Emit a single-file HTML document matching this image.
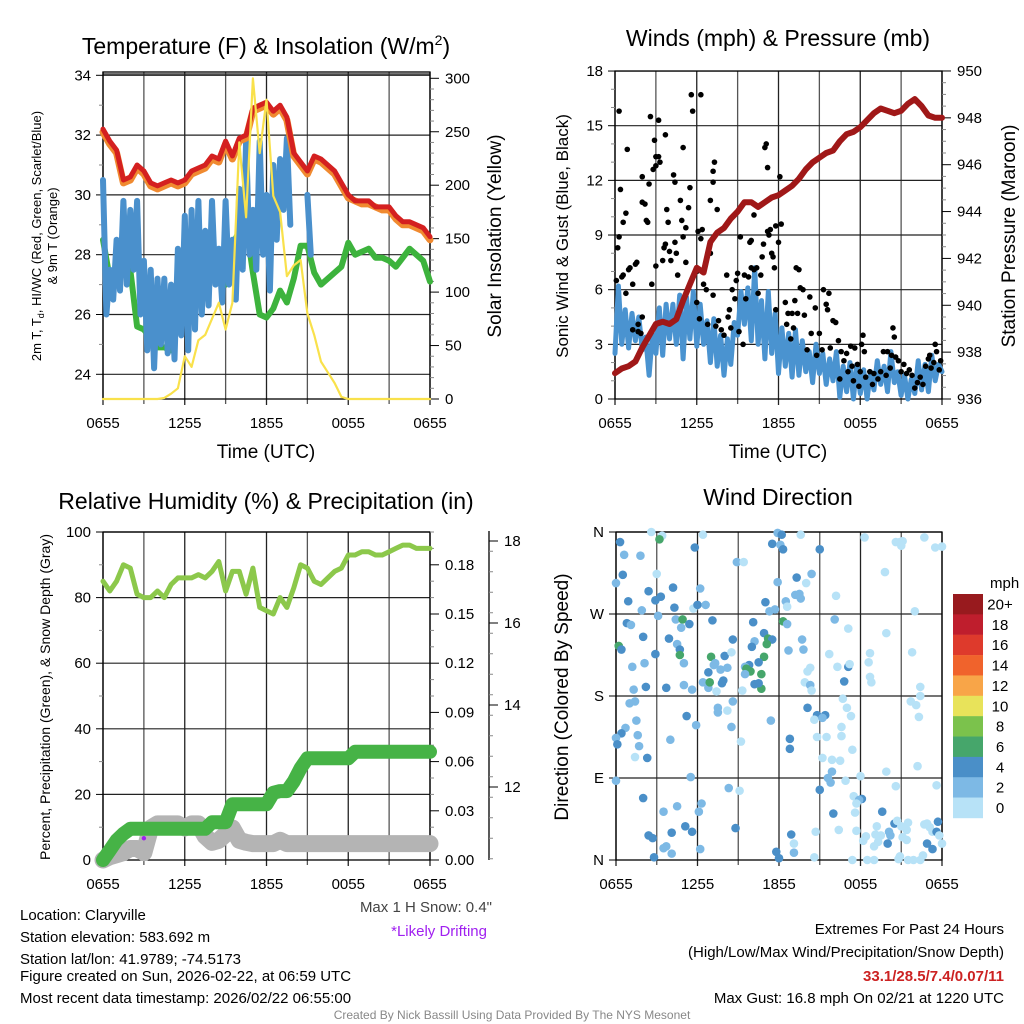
<!DOCTYPE html>
<html><head><meta charset="utf-8">
<style>
html,body{margin:0;padding:0;background:#fff;}
svg{display:block;font-family:"Liberation Sans",Arial,sans-serif;}
</style></head>
<body>
<svg id="chart" width="1024" height="1024" viewBox="0 0 1024 1024" xmlns="http://www.w3.org/2000/svg">
<rect x="0" y="0" width="1024" height="1024" fill="#fff"/>
<!-- Titles -->
<text x="266" y="54" font-size="23" text-anchor="middle">Temperature (F) &amp; Insolation (W/m<tspan font-size="14" dy="-9">2</tspan><tspan dy="9">)</tspan></text>
<text x="778" y="46" font-size="23" text-anchor="middle">Winds (mph) &amp; Pressure (mb)</text>
<text x="266" y="509" font-size="23" text-anchor="middle">Relative Humidity (%) &amp; Precipitation (in)</text>
<text x="778" y="505" font-size="23" text-anchor="middle">Wind Direction</text>
<!-- axis titles -->
<text x="266" y="458" font-size="19" text-anchor="middle">Time (UTC)</text>
<text x="778" y="458" font-size="19" text-anchor="middle">Time (UTC)</text>
<text transform="translate(41,236) rotate(-90)" font-size="13" text-anchor="middle">2m T, T<tspan font-size="9" dy="3">d</tspan><tspan dy="-3">, HI/WC (Red, Green, Scarlet/Blue)</tspan></text>
<text transform="translate(57,236) rotate(-90)" font-size="13" text-anchor="middle">&amp; 9m T (Orange)</text>
<text transform="translate(501,236) rotate(-90)" font-size="19" text-anchor="middle">Solar Insolation (Yellow)</text>
<text transform="translate(568,236) rotate(-90)" font-size="17" text-anchor="middle">Sonic Wind &amp; Gust (Blue, Black)</text>
<text transform="translate(1015,236) rotate(-90)" font-size="19" text-anchor="middle">Station Pressure (Maroon)</text>
<text transform="translate(50,697) rotate(-90)" font-size="14" text-anchor="middle">Percent, Precipitation (Green), &amp; Snow Depth (Gray)</text>
<text transform="translate(568,697) rotate(-90)" font-size="19" text-anchor="middle">Direction (Colored By Speed)</text>
<!-- Bottom text -->
<g font-size="15">
<text x="20" y="920">Location: Claryville</text>
<text x="20" y="942">Station elevation: 583.692 m</text>
<text x="20" y="964">Station lat/lon: 41.9789; -74.5173</text>
<text x="20" y="981">Figure created on Sun, 2026-02-22, at 06:59 UTC</text>
<text x="20" y="1003">Most recent data timestamp: 2026/02/22 06:55:00</text>
</g>
<text x="492" y="912" font-size="15" fill="#444" text-anchor="end">Max 1 H Snow: 0.4"</text>
<text x="487" y="936" font-size="15" fill="#a020f0" text-anchor="end">*Likely Drifting</text>
<g font-size="15" text-anchor="end">
<text x="1004" y="934">Extremes For Past 24 Hours</text>
<text x="1004" y="957">(High/Low/Max Wind/Precipitation/Snow Depth)</text>
<text x="1004" y="981" font-weight="bold" fill="#cc2222">33.1/28.5/7.4/0.07/11</text>
<text x="1004" y="1003">Max Gust: 16.8 mph On 02/21 at 1220 UTC</text>
</g>
<text x="512" y="1019" font-size="12" fill="#888" text-anchor="middle">Created By Nick Bassill Using Data Provided By The NYS Mesonet</text>
</svg>
<script>
// ---------- DATA ----------
const xTickLabels = ["0655","1255","1855","0055","0655"];
// Panel 1 (30-min steps, 0..24h)
const tempRed = [32.2,31.8,31.5,30.5,30.6,31.0,30.8,30.4,30.3,30.4,30.5,30.4,30.5,30.8,30.9,31.0,31.3,31.2,31.8,31.3,31.9,32.0,32.9,33.0,33.1,32.8,33.0,32.6,31.4,31.1,30.8,31.3,31.2,31.0,30.8,30.4,30.0,29.8,29.8,29.8,29.6,29.6,29.6,29.3,29.1,29.1,29.0,28.9,28.6];
const temp9m = [32.1,31.7,31.4,30.4,30.5,30.9,30.7,30.3,30.2,30.3,30.4,30.3,30.4,30.7,30.8,30.9,31.2,31.1,31.7,31.2,31.8,31.9,32.8,32.9,33.0,32.7,32.9,32.5,31.3,31.0,30.7,31.2,31.1,30.9,30.7,30.3,29.9,29.8,29.7,29.7,29.6,29.5,29.5,29.2,29.0,29.0,28.9,28.8,28.5];
const dewGreen = [28.5,27.2,27.0,28.5,27.5,25.6,25.5,25.2,24.9,24.9,24.8,25.7,26.6,27.3,27.9,28.0,28.2,27.5,27.0,28.3,28.8,29.0,27.4,26.0,25.9,26.2,26.8,26.4,27.2,28.3,28.3,27.4,27.0,27.2,27.4,27.6,28.4,28.0,28.1,28.2,27.9,27.9,27.8,27.6,27.9,28.2,28.0,27.8,27.1];
// wind chill (15-min steps)
const chillBlue = [30.5,26.0,27.5,26.5,28.5,26.8,29.8,27.0,29.5,27.5,29.8,26.0,27.8,24.8,27.5,24.2,27.2,25.0,27.2,24.7,27.0,24.5,28.2,25.3,29.3,24.8,29.5,25.5,29.8,26.0,28.8,26.3,29.8,27.0,28.2,26.4,29.8,27.0,28.5,26.5,30.2,27.5,31.8,28.0,29.5,27.5,31.8,28.0,30.0,26.8,31.0,28.5,31.2,29.5,31.9,29.0,null,null,null,null,30.0,28.0];
const insolation = [0,0,0,0,0,0,0,0,0,1,5,10,40,30,55,60,75,90,65,90,240,170,300,230,280,190,175,115,125,130,80,60,35,25,15,2,0,0,0,0,0,0,0,0,0,0,0,0,0];
// Panel 2
const pressure = [937.1,937.3,937.4,937.6,938.2,938.7,939.2,939.3,939.2,939.4,940.2,940.9,941.6,941.4,942.7,943.1,943.3,943.7,944.0,944.4,944.4,944.2,944.4,944.6,944.7,944.9,945.1,945.4,945.8,946.1,946.3,946.5,946.6,947.0,947.3,947.4,947.6,947.9,948.2,948.4,948.3,948.2,948.3,948.6,948.8,948.5,948.1,948.0,948.0];
const windSpeed = [2.5,6.2,3.0,4.9,2.8,4.7,3.2,4.5,2.7,3.4,1.3,3.6,2.5,5.0,2.4,5.2,3.3,5.2,3.0,5.7,2.2,5.6,3.3,5.9,2.9,5.2,3.0,4.3,2.0,4.4,1.8,3.5,1.3,3.3,1.9,4.2,3.5,5.9,4.1,6.1,3.2,7.2,3.0,5.4,2.2,5.9,2.5,4.7,1.4,3.9,1.8,3.6,1.2,3.8,1.3,3.2,1.5,2.6,0.9,3.0,1.4,2.5,0.8,2.2,1.0,2.6,0.1,1.8,0.4,2.0,0.0,1.9,0.3,1.6,0.0,1.5,0.5,2.1,0.8,1.8,0.4,2.6,0.9,1.5,0.2,1.3,0.0,1.1,0.3,2.1,0.5,1.9,0.4,2.4,1.0,1.9,1.5];
const gustHour = [0.3,0.1,0.2,0.3,0.4,0.5,0.6,0.6,0.8,0.9,0.8,1.0,1.1,1.3,1.3,1.5,1.6,1.7,1.7,1.9,2.0,2.0,2.0,2.2,2.3,2.4,2.5,2.6,2.7,2.8,2.9,3.0,3.0,3.2,3.2,3.3,3.0,3.5,3.7,3.6,3.7,3.8,3.9,4.0,4.1,4.3,4.4,4.4,4.5,4.6,4.8,4.9,5.0,5.0,5.2,5.2,5.5,5.4,5.6,5.7,6.0,6.1,6.0,6.2,6.3,6.4,6.5,6.3,6.7,6.8,7.0,7.0,7.2,7.2,7.3,7.2,7.4,7.5,7.6,7.8,8.0,8.2,8.3,8.4,8.5,8.6,8.8,8.9,9.0,9.1,9.2,9.4,9.5,9.6,9.8,9.9,10.0,10.0,10.2,10.2,10.4,10.5,10.7,10.8,10.9,11.0,11.1,11.2,11.2,11.3,11.4,11.5,11.6,11.7,11.8,11.8,12.0,12.1,12.2,12.5,12.6,12.7,12.9,13.0,13.1,13.2,13.3,13.5,13.4,13.6,13.8,13.9,14.1,14.3,14.4,14.7,14.8,15.0,15.2,15.3,15.5,15.6,15.7,15.8,16.0,16.2,16.4,16.5,16.6,16.8,17.0,17.1,17.3,17.4,17.5,17.6,17.8,17.9,18.0,18.1,18.2,18.3,18.4,18.7,18.9,19.0,19.3,19.5,19.7,19.9,20.0,20.2,20.3,20.4,20.5,20.6,20.8,21.0,21.2,21.4,21.6,21.8,22.0,22.2,22.4,22.6,22.8,23.0,23.1,23.2,23.4,23.5,23.6,23.8,23.9];
const gustSpeed = [15.8,6.5,8.3,8.9,11.5,6.7,9.7,6.8,10.2,13.7,5.8,7.1,7.2,6.3,3.8,7.4,7.5,4.1,3.7,3.6,4.5,12.2,10.8,10.7,9.8,9.7,11.8,15.5,6.3,12.6,14.2,13.3,12.8,15.3,13.3,13.0,7.3,7.6,14.5,8.3,8.5,10.4,9.7,8.1,7.6,12.3,11.9,8.6,8.0,6.8,10.9,9.8,8.9,13.8,9.4,7.5,11.6,10.5,16.7,15.8,7.0,9.2,5.3,4.4,16.7,9.3,6.3,8.8,6.0,4.1,10.9,8.0,12.5,11.9,13.0,5.7,4.0,10.4,4.3,3.8,3.5,6.8,4.5,4.9,3.9,6.0,5.5,6.5,6.9,3.7,8.9,3.0,6.8,5.5,6.7,8.6,8.7,7.2,7.1,10.1,7.2,5.8,6.8,7.8,8.5,13.8,14.0,12.7,9.2,9.0,9.3,8.0,7.8,7.2,9.5,4.9,8.6,12.2,9.6,5.3,4.1,4.7,3.3,4.7,3.9,5.4,7.2,7.1,4.7,6.1,6.0,4.6,2.7,5.6,3.6,5.0,2.4,3.6,2.7,6.0,5.2,4.9,5.8,2.8,4.3,4.2,3.2,1.1,2.6,2.1,2.5,1.5,2.9,1.8,1.0,2.8,1.9,0.7,1.5,3.0,3.5,2.6,1.2,1.5,0.8,1.4,1.1,1.5,2.6,1.3,2.6,1.7,2.4,3.9,3.4,2.3,2.1,1.5,1.9,1.4,1.6,1.3,0.6,0.9,1.2,0.8,1.8,2.2,2.4,1.7,2.0,3.0,2.6,1.6,2.1];
// Panel 3
const relHum = [85,82,85,90,89,81,80,80,82,80,84,86,86,86,87,86,88,91,82,88,88,81,89,77,76,75,80,77,83,90,89,85,84,86,88,89,93,93,94,94,93,93,94,95,96,96,95,95,95];
const precip = [0.0,0.006,0.012,0.016,0.019,0.019,0.019,0.019,0.019,0.019,0.019,0.019,0.019,0.019,0.019,0.019,0.023,0.023,0.023,0.034,0.034,0.034,0.034,0.034,0.034,0.041,0.042,0.042,0.048,0.056,0.062,0.062,0.062,0.062,0.062,0.062,0.062,0.066,0.066,0.066,0.066,0.066,0.066,0.066,0.066,0.066,0.066,0.066,0.066];
const snowDepth = [10.22,10.3,10.35,10.4,10.5,10.5,10.4,11.0,11.1,11.1,11.1,11.1,11.0,11.1,11.1,10.8,10.65,10.7,10.85,11.0,10.7,10.65,10.62,10.62,10.62,10.62,10.7,10.62,10.62,10.62,10.62,10.62,10.62,10.62,10.62,10.62,10.62,10.62,10.62,10.62,10.62,10.62,10.62,10.62,10.62,10.62,10.62,10.62,10.62];
const driftHour = [3.0];
const driftSnow = [10.75];
// Panel 4
const dirHour = [0.3,0.6,1.8,2.6,3.4,3.2,5.8,6.4,0,0.5,3.0,2.4,4.2,2.9,3.3,0.9,1.9,3.1,4.3,5.7,6.0,6.6,6.2,0.8,1.1,2.0,2.9,3.9,4.5,4.7,4.4,4.9,4.8,5.4,7.1,4.7,5.0,0.2,0.4,1.2,2.1,2.2,1.3,3.7,5.0,5.6,6.4,6.8,6.8,7.0,6.9,7.2,7.3,7.8,7.9,7.7,8.0,7.4,8.5,8.6,8.9,8.2,8.2,8.6,8.5,7.5,7.5,5.2,5.9,1.0,1.4,1.5,0.7,0.4,0.0,0.1,1.6,1.7,1.4,2.3,4.0,5.5,0,2.0,3.5,4.5,6.3,6.1,5.1,5.6,4.1,2.4,2.7,3.7,3.5,4.1,2.8,6.2,8.3,9.1,8.8,9.2,9.3,9.4,
11.9,12.2,11.5,12.1,12.3,13.6,15.0,13.3,14.4,14.0,11.9,13.2,13.5,13.6,12.5,12.6,11.0,11.3,11.7,12.3,12.6,10.1,10.9,11.2,11.5,10.2,10.0,11.1,10.9,10.5,10.7,10.7,10.5,10.2,9.8,9.5,9.6,9.9,9.5,12.7,13.7,13.8,14.3,14.1,13.9,14.3,14.4,11.4,14.1,14.8,14.6,15.4,15.2,14.8,15.5,12.8,12.8,15.2,15.9,16.5,15.6,15.9,15.8,15.0,16.0,16.4,14.7,12.9,13.1,13.1,11.8,12.0,14.6,
18.3,19.8,16.2,16.1,17.1,19.9,15.7,18.7,21.8,16.3,17.1,17.2,18.6,18.7,18.8,16.8,16.7,17.0,17.3,16.6,16.6,17.4,21.7,22.1,22.4,22.3,22.2,19.9,18.0,16.9,20.6,23.6,17.5,18.1,17.9,17.7,17.6,19.6,20.5,20.7,21.0,21.4,21.5,20.1,20.2,19.2,19.1,18.4,18.2,19.5,19.3,19.0,20.0,21.1,21.4,22.7,22.9,23.1,23.3,23.7,23.6,23.8,24.0,22.9,23.3,22.6,17.7,17.4,18.5,19.0,20.8,20.9,21.5,21.9,22.4,20.6,20.9,21.1,21.0,22.7,23.5,24.0,22.0,22.4];
const dirDeg = [349,335,334,360,356,352,343,357,304,313,314,295,299,285,289,284,274,268,277,276,280,280,298,260,258,245,226,243,237,231,264,264,255,259,263,225,216,235,231,212,216,190,187,189,192,187,195,189,206,223,195,214,216,194,197,209,224,185,228,242,327,211,164,174,146,167,162,158,148,172,174,153,145,139,134,127,137,125,113,112,132,91,87,68,53,59,62,53,37,31,30,27,24,15,13,7,3,12,79,76,35,130,186,327,
359,357,347,346,341,357,341,310,314,304,305,291,292,287,284,278,283,273,275,262,259,261,249,243,242,240,234,237,223,217,204,188,194,193,214,212,210,207,204,230,242,231,211,207,195,192,186,153,167,159,154,159,156,135,135,133,122,112,110,109,90,97,85,77,51,33,31,28,18,8,9,2,3,
354,316,290,264,254,249,226,227,228,212,212,215,217,201,195,196,177,167,158,146,136,121,174,170,180,157,103,97,92,87,81,82,70,67,66,62,52,53,40,43,37,33,41,31,27,37,28,26,21,27,20,15,18,25,22,39,40,36,31,42,31,27,18,18,12,5,32,0,0,0,1,4,0,0,0,349,349,350,345,354,343,344,273,190];
const dirSpeed = [5,3,3,1,1,7,5,1,3,5,1,5,5,5,5,5,3,3,5,1,5,3,3,5,3,5,5,5,3,5,3,7,3,5,5,7,3,7,5,3,3,5,3,5,3,3,3,3,5,7,7,3,3,5,5,3,5,1,1,5,3,3,1,3,3,3,3,5,3,3,3,3,3,5,3,5,3,3,1,5,3,3,3,5,3,3,3,3,5,5,5,5,5,3,3,3,5,3,3,1,5,1,1,1,
3,5,5,3,5,1,5,5,3,1,3,3,3,3,3,1,5,3,3,7,3,5,5,7,5,3,5,7,7,5,7,7,5,5,5,3,7,7,3,3,3,3,1,1,1,3,1,3,5,5,1,5,3,1,1,5,5,1,1,1,3,3,3,5,5,1,1,5,1,3,5,5,1,
1,1,1,3,1,1,1,1,1,1,5,1,1,1,1,5,1,1,1,1,1,1,1,1,1,1,1,1,1,1,1,1,1,5,3,1,1,5,5,1,1,1,1,3,3,1,1,1,1,1,1,1,5,1,1,1,1,1,1,5,5,1,1,5,5,1,1,1,1,1,1,1,1,1,1,1,1,1,1,1,1,1,1,1];
const speedBinLabels = ["20+","18","16","14","12","10","8","6","4","2","0"];

// ---------- HELPERS ----------
const NS = "http://www.w3.org/2000/svg";
const svg = document.getElementById("chart");
function mk(tag, attrs, parent) {
  const e = document.createElementNS(NS, tag);
  for (const k in attrs) e.setAttribute(k, attrs[k]);
  (parent || svg).appendChild(e);
  return e;
}
function group(name) {
  const g = mk("g", {});
  
  
  return g;
}
function txt(parent, x, y, s, size, anchor, name) {
  const t = mk("text", {x: x, y: y, "font-size": size, "text-anchor": anchor}, parent);
  t.textContent = s;
  
  
  return t;
}
function linePath(parent, xs, ys, color, width, name) {
  let d = "", pen = false;
  for (let i = 0; i < xs.length; i++) {
    if (ys[i] === null || isNaN(ys[i])) { pen = false; continue; }
    d += (pen ? "L" : "M") + xs[i].toFixed(1) + "," + ys[i].toFixed(1);
    pen = true;
  }
  const p = mk("path", {d: d, fill: "none", stroke: color, "stroke-width": width, "stroke-linejoin": "round", "stroke-linecap": "round"}, parent);
  
  
  return p;
}
function xScale(P) { return h => P.x0 + (h / 24) * (P.x1 - P.x0); }

function frame(P, prefix, hLines, leftTicks, rightTicks) {
  const g = group(prefix + "-axes");
  const xs = xScale(P);
  // vertical grid
  for (let k = 0; k <= 8; k++) {
    const x = xs(k * 3);
    const l = mk("line", {x1: x, x2: x, y1: P.y0, y2: P.y1 + (k % 2 === 0 ? 6 : 5), stroke: k % 2 ? "#555" : "#222", "stroke-width": 1.3}, g);
    
    
  }
  hLines.forEach(y => {
    const l = mk("line", {x1: P.x0, x2: P.x1, y1: y, y2: y, stroke: "#222", "stroke-width": 1.2}, g);
    
    
  });
  const b = mk("rect", {x: P.x0, y: P.y0, width: P.x1 - P.x0, height: P.y1 - P.y0, fill: "none", stroke: "#000", "stroke-width": 1.3}, g);
  
  
  xTickLabels.forEach((s, i) => {
    txt(g, xs(i * 6), P.y1 + 29, s, 15, "middle", prefix + "-x-tick-label");
  });
  leftTicks.forEach(t => {
    const l = mk("line", {x1: P.x0 - (t.minor ? 4 : 7), x2: P.x0, y1: t.y, y2: t.y, stroke: t.minor ? "#888" : "#000", "stroke-width": 1}, g);
    
    
    if (!t.minor) txt(g, P.x0 - 12, t.y + 5, t.label, 15, "end", prefix + "-left-tick-label");
  });
  rightTicks.forEach(t => {
    const l = mk("line", {x1: P.x1, x2: P.x1 + (t.minor ? 4 : 9), y1: t.y, y2: t.y, stroke: t.minor ? "#888" : "#000", "stroke-width": 1}, g);
    
    
    if (!t.minor) txt(g, P.x1 + 15, t.y + 5, t.label, 15, "start", prefix + "-right-tick-label");
  });
}
const hh = (n, step) => Array.from({length: n}, (_, i) => i * step);

// ---------- PANEL 1 ----------
(function () {
  const P = {x0: 103, x1: 430, y0: 72, y1: 399};
  const xs = xScale(P);
  const yL = v => 374.3 - (v - 24) * 29.9;
  const yR = v => 399 - v * 1.069;
  const lt = [], rt = [], hl = [];
  for (let v = 24; v <= 34; v++) { lt.push({y: yL(v), label: String(v), minor: v % 2 === 1}); if (v % 2 === 0) hl.push(yL(v)); }
  for (let v = 0; v <= 300; v += 10) rt.push({y: yR(v), label: String(v), minor: v % 50 !== 0});
  hl.push(P.y0 + 2);
  frame(P, "temperature", hl, lt, rt);
  const g = group("temperature-series");
  const t30 = hh(49, 0.5), t15 = hh(chillBlue.length, 0.25);
  linePath(g, t30.map(xs), dewGreen.map(yL), "#3db33d", 6, "dewpoint-line");
  linePath(g, t15.map(xs), chillBlue.map(v => v === null ? null : yL(v)), "#4a90cc", 6, "wind-chill-line");
  linePath(g, t30.map(xs), temp9m.map(yL), "#f08a30", 7, "temp-9m-line");
  linePath(g, t30.map(xs), tempRed.map(yL), "#d42020", 5, "temp-2m-line");
  linePath(g, t30.map(xs), insolation.map(yR), "#f9e14b", 2.2, "insolation-line");
})();

// ---------- PANEL 2 ----------
(function () {
  const P = {x0: 615, x1: 942, y0: 71, y1: 399};
  const xs = xScale(P);
  const yL = v => 399 - v * 18.22;
  const yR = v => 399 - (v - 936) * 23.43;
  const lt = [], rt = [], hl = [];
  for (let v = 0; v <= 18; v++) { lt.push({y: yL(v), label: String(v), minor: v % 3 !== 0}); if (v % 3 === 0 && v > 0) hl.push(yL(v)); }
  for (let v = 936; v <= 950; v += 0.5) rt.push({y: yR(v), label: String(v), minor: v % 2 !== 0});
  frame(P, "winds", hl, lt, rt);
  const g = group("winds-series");
  linePath(g, hh(windSpeed.length, 0.25).map(xs), windSpeed.map(yL), "#4a93d0", 5, "sonic-wind-line");
  gustHour.forEach((h, i) => {
    const c = mk("circle", {cx: xs(h), cy: yL(gustSpeed[i]), r: 2.8, fill: "#000"}, g);
    
    
  });
  linePath(g, hh(49, 0.5).map(xs), pressure.map(yR), "#a01818", 6, "pressure-line");
})();

// ---------- PANEL 3 ----------
(function () {
  const P = {x0: 103, x1: 430, y0: 532, y1: 860};
  const xs = xScale(P);
  const yL = v => 860 - v * 3.28;
  const yP = v => 860 - v * 1640;
  const yS = s => 541 + (18 - s) * 41;
  const lt = [], rt = [], hl = [];
  for (let v = 0; v <= 100; v += 10) { lt.push({y: yL(v), label: String(v), minor: v % 20 !== 0}); if (v % 20 === 0 && v > 0) hl.push(yL(v)); }
  for (let k = 0; k <= 20; k++) { const v = k * 0.01; rt.push({y: yP(v), label: v.toFixed(2), minor: k % 3 !== 0}); }
  frame(P, "humidity", hl, lt, rt);
  // snow depth axis
  const ga = group("snow-depth-axis");
  const al = mk("line", {x1: 489, x2: 489, y1: 531, y2: 860, stroke: "#000", "stroke-width": 1.3}, ga);
  
  
  for (let s = 10.25; s <= 18.25; s += 0.5) {
    const y = yS(s);
    if (y < 531 || y > 860) continue;
    const major = Math.abs(s % 2) < 1e-6;
    const l = mk("line", {x1: 489, x2: 489 + (major ? 9 : 4), y1: y, y2: y, stroke: major ? "#000" : "#888", "stroke-width": 1}, ga);
    
    
  }
  for (let s = 12; s <= 18; s += 2) {
    const l = mk("line", {x1: 489, x2: 498, y1: yS(s), y2: yS(s), stroke: "#000", "stroke-width": 1}, ga);
    
    
    txt(ga, 504, yS(s) + 5, String(s), 15, "start", "snow-tick-label");
  }
  const g = group("humidity-series");
  const t30 = hh(49, 0.5);
  linePath(g, t30.map(xs), snowDepth.map(yS), "#b4b4b4", 17, "snow-depth-line");
  linePath(g, t30.map(xs), precip.map(yP), "#46b346", 14, "precipitation-line");
  linePath(g, t30.map(xs), relHum.map(yL), "#8cc84b", 5, "relative-humidity-line");
  driftHour.forEach((h, i) => {
    const c = mk("circle", {cx: xs(h), cy: yS(driftSnow[i]), r: 2.2, fill: "#a020f0"}, g);
    
    
  });
})();

// ---------- PANEL 4 ----------
(function () {
  const P = {x0: 616, x1: 942, y0: 532, y1: 860};
  const xs = xScale(P);
  const yD = d => 860 - d * 0.9111;
  const names = ["N","E","S","W","N"];
  const lt = [], hl = [];
  for (let k = 0; k <= 4; k++) { lt.push({y: yD(k * 90), label: names[k], minor: false}); if (k > 0 && k < 4) hl.push(yD(k * 90)); }
  hl.push(yD(360));
  frame(P, "direction", hl, lt, []);
  const binColors = ["#981a1e","#bf1e2d","#de3a2c","#f0632c","#f8a548","#e8e35a","#7bc24c","#46a66b","#4a8fc8","#7db9e5","#b7e2f7"];
  const colorFor = s => binColors[10 - Math.min(10, Math.floor(s / 2))];
  const g = group("direction-points");
  dirHour.forEach((h, i) => {
    const c = mk("circle", {cx: xs(h), cy: yD(dirDeg[i]), r: 4.3, fill: colorFor(dirSpeed[i])}, g);
    
    
  });
  // colorbar
  const cb = group("speed-colorbar");
  txt(cb, 990, 588, "mph", 15, "start", "colorbar-title");
  speedBinLabels.forEach((lab, i) => {
    const y = 594 + i * 20.36;
    const r = mk("rect", {x: 953, y: y, width: 30, height: 20.6, fill: binColors[i]}, cb);
    
    
    txt(cb, 1000, y + 15.5, lab, 15, "middle", "colorbar-label");
  });
})();
</script>
</body></html>
